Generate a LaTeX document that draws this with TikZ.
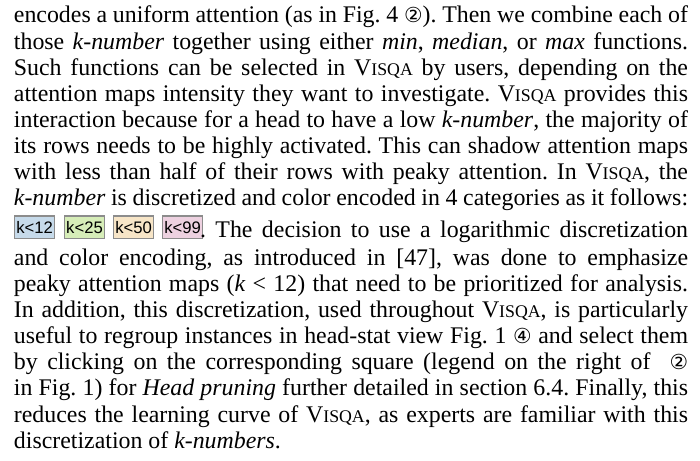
\documentclass[tikz,border=0pt]{standalone}
\usepackage{fontspec}
\setmainfont{Liberation Serif}
\setsansfont{Liberation Sans}
\newfontfamily\symfont{DejaVu Sans}
\usepackage{tikz}
\usetikzlibrary{positioning}

\definecolor{kblue}{HTML}{C6DAEA}
\definecolor{kgreen}{HTML}{D6EDB8}
\definecolor{korange}{HTML}{F7E5C7}
\definecolor{kpink}{HTML}{EDD1E0}
\definecolor{kborder}{HTML}{8C8C8C}

\newcommand{\visqa}{V{\fontsize{7.9}{9}\selectfont ISQA}}
\newcommand{\circnum}[1]{{\symfont\fontsize{9.2}{10}\selectfont #1}}
\newcommand{\fullline}[1]{\makebox[299.5pt][s]{#1}}

\frenchspacing
\tikzset{%
  txtline/.style={anchor=base west, inner sep=0pt, outer sep=0pt, font=\fontsize{10.6}{11.6}\selectfont},
  kbox/.style={draw=kborder, line width=0.5pt, anchor=south west, inner sep=0pt,
    minimum width=17.8pt, minimum height=10.2pt, font=\sffamily\fontsize{7.4}{8}\selectfont}
}

\begin{document}
\begin{tikzpicture}
\useasboundingbox (0,0) rectangle (311pt,-204.4pt);

\node[txtline] (l1) at (6.2pt,-10.2pt) {\fullline{encodes a uniform attention (as in Fig. 4 \circnum{②}). Then we combine each of}};
\node[txtline] (l2) at (6.2pt,-21.8pt) {\fullline{those \textit{k-number} together using either \textit{min}, \textit{median}, or \textit{max} functions.}};
\node[txtline] (l3) at (6.2pt,-33.4pt) {\fullline{Such functions can be selected in \visqa{} by users, depending on the}};
\node[txtline] (l4) at (6.2pt,-45.0pt) {\fullline{attention maps intensity they want to investigate. \visqa{} provides this}};
\node[txtline] (l5) at (6.2pt,-56.6pt) {\fullline{interaction because for a head to have a low \textit{k-number}, the majority of}};
\node[txtline] (l6) at (6.2pt,-68.2pt) {\fullline{its rows needs to be highly activated. This can shadow attention maps}};
\node[txtline] (l7) at (6.2pt,-79.8pt) {\fullline{with less than half of their rows with peaky attention. In \visqa, the}};
\node[txtline] (l8) at (6.2pt,-91.4pt) {\fullline{\textit{k-number} is discretized and color encoded in 4 categories as it follows:}};

% legend boxes
\node[kbox, fill=kblue] (k12) at (6.2pt,-106.4pt) {k<12};
\node[kbox, fill=kgreen] (k25) at (28.4pt,-106.4pt) {k<25};
\node[kbox, fill=korange] (k50) at (50.2pt,-106.4pt) {k<50};
\node[kbox, fill=kpink] (k99) at (72.0pt,-106.4pt) {k<99};
\node[txtline] (l9) at (88.9pt,-105.3pt) {\makebox[216.8pt][s]{. The decision to use a logarithmic discretization}};

\node[txtline] (l10) at (6.2pt,-117.9pt) {\fullline{and color encoding, as introduced in [47], was done to emphasize}};
\node[txtline] (l11) at (6.2pt,-129.5pt) {\fullline{peaky attention maps (\textit{k} < 12) that need to be prioritized for analysis.}};
\node[txtline] (l12) at (6.2pt,-141.1pt) {\fullline{In addition, this discretization, used throughout \visqa, is particularly}};
\node[txtline] (l13) at (6.2pt,-152.7pt) {\fullline{useful to regroup instances in head-stat view Fig. 1 \circnum{④} and select them}};
\node[txtline] (l14) at (6.2pt,-164.3pt) {\fullline{by clicking on the corresponding square (legend on the right of \ \circnum{②}}};
\node[txtline] (l15) at (6.2pt,-175.9pt) {\fullline{in Fig. 1) for \textit{Head pruning} further detailed in section 6.4. Finally, this}};
\node[txtline] (l16) at (6.2pt,-187.5pt) {\fullline{reduces the learning curve of \visqa, as experts are familiar with this}};
\node[txtline] (l17) at (6.2pt,-199.1pt) {discretization of \textit{k-numbers}.};
\end{tikzpicture}
\end{document}
